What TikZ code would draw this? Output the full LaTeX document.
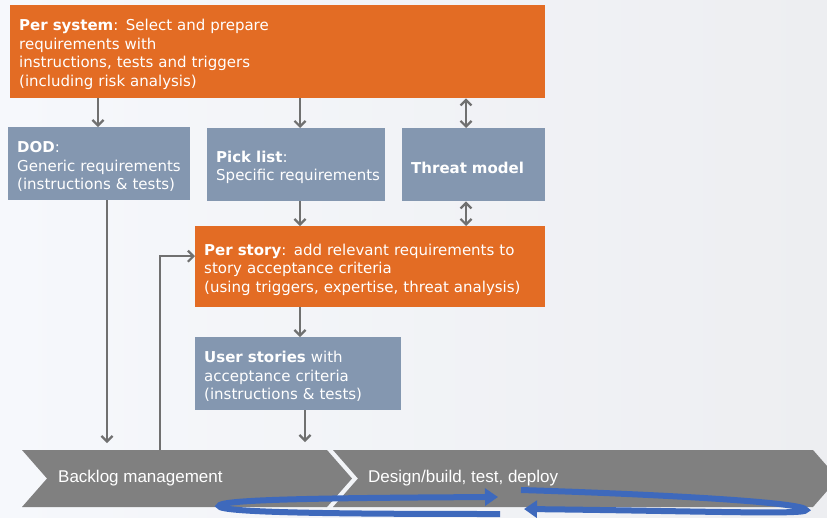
\documentclass[tikz,border=0pt]{standalone}
\usepackage{fontspec}
\setmainfont{DejaVu Sans}
\newfontfamily\chevfont{Liberation Sans}
\usetikzlibrary{arrows.meta}
\definecolor{orangebox}{RGB}{227,108,36}
\definecolor{bluebox}{RGB}{132,151,176}
\definecolor{arrgray}{RGB}{112,112,112}
\definecolor{chevgray}{RGB}{128,128,128}
\definecolor{loopblue}{RGB}{62,105,188}
\definecolor{bgA}{RGB}{246,248,252}
\definecolor{bgB}{RGB}{237,238,241}
\begin{document}
\begin{tikzpicture}[x=1pt,y=-1pt,
  boxbase/.style={anchor=north west, text=white, align=left, inner xsep=9pt, inner ysep=0pt,
    font=\fontsize{15}{18.5}\selectfont, execute at begin node={\rule{0pt}{17pt}}},
  sysbox/.style={boxbase, fill=orangebox},
  infobox/.style={boxbase, fill=bluebox},
  flow/.style={draw=arrgray, line width=2.2pt, -{Straight Barb[length=5.5pt,width=11pt]}},
  flowboth/.style={draw=arrgray, line width=2.2pt, {Straight Barb[length=5.5pt,width=11pt]}-{Straight Barb[length=5.5pt,width=11pt]}},
  chevtext/.style={anchor=west, text=white, inner sep=0pt, font=\chevfont\fontsize{17}{20}\selectfont},
  chevshape/.style={fill=chevgray},
  loopline/.style={draw=loopblue, line width=6pt, -{Triangle[length=13pt,width=17pt]}}
]
\useasboundingbox (0,0) rectangle (827,517);
\clip (0,0) rectangle (827,517);
\shade[left color=bgA, middle color=bgA, right color=bgB] (0,0) rectangle (827,517);

% boxes
\node[sysbox, text width=517pt, minimum height=93pt] (sys) at (10,5)
  {\mbox{\textbf{Per system}: Select and prepare}\\ \mbox{requirements with}\\ \mbox{instructions, tests and triggers}\\ \mbox{(including risk analysis)}};
\node[infobox, text width=164pt, minimum height=73pt] (dod) at (8,127)
  {\mbox{\textbf{DOD}:}\\ \mbox{Generic requirements}\\ \mbox{(instructions \& tests)}};
\node[infobox, text width=160pt, minimum height=73pt] (pick) at (207,128)
  {\mbox{\textbf{Pick list}:}\\ \mbox{Specific requirements}};
\node[infobox, text width=125pt, minimum height=73pt] (threat) at (402,128)
  {\mbox{\textbf{Threat model}}};
\node[sysbox, text width=332pt, minimum height=81pt] (story) at (195,226)
  {\mbox{\textbf{Per story}: add relevant requirements to}\\ \mbox{story acceptance criteria}\\ \mbox{(using triggers, expertise, threat analysis)}};
\node[infobox, text width=188pt, minimum height=73pt] (user) at (195,337)
  {\mbox{\textbf{User stories} with}\\ \mbox{acceptance criteria}\\ \mbox{(instructions \& tests)}};

% chevrons
\path[chevshape] (22,450) -- (327,450) -- (352,478.5) -- (327,507) -- (22,507) -- (47,478.5) -- cycle;
\path[chevshape] (333,450) -- (813,450) -- (838,478.5) -- (813,507) -- (333,507) -- (358,478.5) -- cycle;
\node[chevtext] (backlog) at (58,478.5) {Backlog management};
\node[chevtext] (design) at (368,478.5) {Design/build, test, deploy};

% connector coordinates
\coordinate (xa) at (98,0);
\coordinate (xb) at (300,0);
\coordinate (xc) at (466,0);
\coordinate (xd) at (107,443);
\coordinate (xe) at (305,442);
\coordinate (xf) at (160,450);

\draw[flow] (sys.south -| xa) -- (dod.north -| xa);
\draw[flow] (sys.south -| xb) -- (pick.north -| xb);
\draw[flowboth] (sys.south -| xc) -- (threat.north -| xc);
\draw[flow] (pick.south -| xb) -- (story.north -| xb);
\draw[flowboth] (threat.south -| xc) -- (story.north -| xc);
\draw[flow] (story.south -| xb) -- (user.north -| xb);
\draw[flow] (user.south -| xe) -- (xe);
\draw[flow] (dod.south -| xd) -- (xd);
\draw[flow] (xf) |- ([yshift=10.5pt]story.west);

% iteration loops
\coordinate (la) at (500,514);
\coordinate (lb) at (498,497);
\coordinate (ra) at (521,490);
\coordinate (rb) at (524,509);
\draw[loopline] (la) .. controls (350,514) and (219,513) .. (219,506)
  .. controls (219,500) and (300,498) .. (lb);
\draw[loopline] (ra) .. controls (650,494) and (806,502) .. (806,510)
  .. controls (806,515) and (700,511) .. (rb);
\end{tikzpicture}
\end{document}
